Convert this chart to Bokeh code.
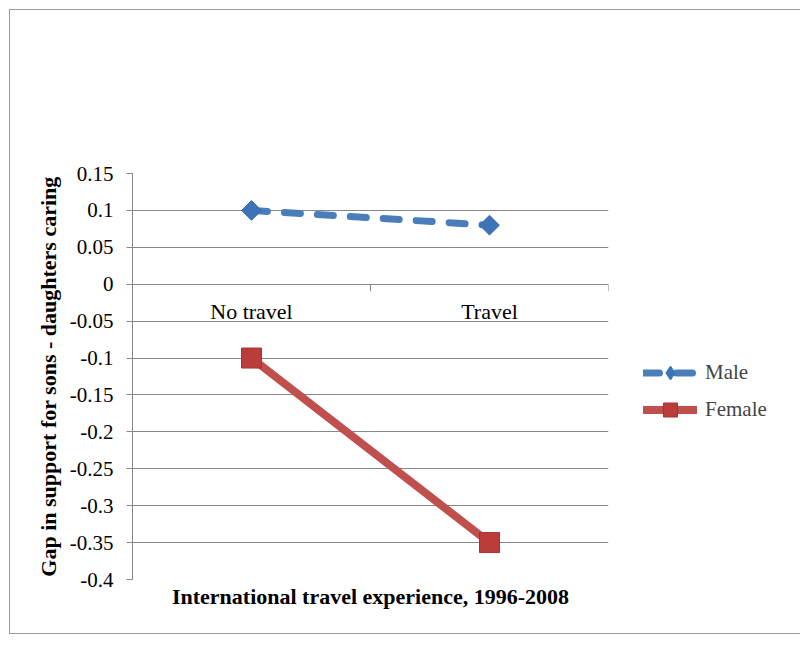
import math
from bokeh.plotting import figure
from bokeh.models import (Range1d, FixedTicker, Legend, LegendItem)
from bokeh.core.properties import value
from bokeh.embed import file_html
from bokeh.resources import INLINE

categories = ["No travel", "Travel"]
male = [0.10, 0.08]
female = [-0.10, -0.35]
tick_values = [-0.4, -0.35, -0.3, -0.25, -0.2, -0.15, -0.1, -0.05, 0.0, 0.05, 0.1, 0.15]
tick_labels = ["-0.4", "-0.35", "-0.3", "-0.25", "-0.2", "-0.15", "-0.1", "-0.05", "0", "0.05", "0.1", "0.15"]
y_title = "Gap in support for sons - daughters caring"
x_title = "International travel experience, 1996-2008"

FONT = "'Liberation Serif', 'Times New Roman', serif"
GRID = "#878787"
BLUE_LINE = "#4a7ebb"
BLUE_MARK = "#3d74b8"
RED_LINE = "#c0504d"
RED_MARK = "#bb3d3a"

xs = [i + 0.5 for i in range(len(categories))]
boundaries = list(range(len(categories) + 1))

p = figure(width=779, height=624, output_backend="svg", toolbar_location=None,
           x_range=Range1d(0, len(categories)), y_range=Range1d(tick_values[0], tick_values[-1]),
           frame_width=476, frame_height=406,
           min_border_left=122, min_border_top=163, min_border_right=180, min_border_bottom=54)
p.margin = (9, 0, 0, 9)
p.styles = {"border": "1px solid #9a9a9a"}
p.outline_line_color = None
p.background_fill_color = "white"
p.border_fill_color = "white"

# axes
p.yaxis.ticker = FixedTicker(ticks=tick_values)
p.yaxis.major_label_overrides = {v: s for v, s in zip(tick_values, tick_labels)}
p.yaxis.major_label_text_font = FONT
p.yaxis.major_label_text_font_size = "21px"
p.yaxis.major_label_text_color = "black"
p.yaxis.major_tick_out = 6
p.yaxis.major_tick_in = 0
p.yaxis.minor_tick_line_color = None
p.yaxis.axis_line_color = GRID
p.yaxis.major_tick_line_color = GRID
p.yaxis.major_label_standoff = 13
p.yaxis.axis_label = y_title
p.yaxis.axis_label_text_font = FONT
p.yaxis.axis_label_text_font_style = "bold"
p.yaxis.axis_label_text_font_size = "22px"
p.yaxis.axis_label_text_color = "black"
p.yaxis.axis_label_standoff = 6

p.xaxis.ticker = FixedTicker(ticks=[])
p.xaxis.axis_line_color = None
p.xaxis.major_tick_line_color = None
p.xaxis.minor_tick_line_color = None
p.xaxis.major_tick_out = 0
p.xaxis.major_label_standoff = 0
p.xaxis.axis_label = x_title
p.xaxis.axis_label_text_font = FONT
p.xaxis.axis_label_text_font_style = "bold"
p.xaxis.axis_label_text_font_size = "22px"
p.xaxis.axis_label_text_color = "black"
p.xaxis.axis_label_standoff = 4

p.xgrid.grid_line_color = None
p.ygrid.grid_line_color = GRID
p.ygrid.grid_line_width = 1
p.ygrid.ticker = FixedTicker(ticks=tick_values)

# category axis at zero: ticks at boundaries and labels
p.ray(x=boundaries, y=[0] * len(boundaries), length=7, length_units="screen",
      angle=-math.pi / 2, line_color=GRID, line_width=1)
p.text(x=xs, y=[0] * len(xs), text=categories, text_font=value(FONT),
       text_font_size="22px", text_align="center", text_baseline="top",
       y_offset=15, text_color="black")

# series
m_line = p.line(xs, male, line_color=BLUE_LINE, line_width=7, line_dash="16 17",
                line_cap="round")
# diamond (used for the legend swatch), hidden beneath the rotated square in the plot
m_diamond = p.scatter(xs, male, marker="diamond", size=16,
                      fill_color=BLUE_MARK, line_color=BLUE_MARK)
m_mark = p.scatter(xs, male, marker="square", size=14, angle=math.pi / 4,
                   fill_color=BLUE_MARK, line_color="#3a6eae", line_width=1)
f_line = p.line(xs, female, line_color=RED_LINE, line_width=8, line_cap="round")
f_mark = p.scatter(xs, female, marker="square", size=20,
                   fill_color=RED_MARK, line_color="#a3322f", line_width=1)

legend = Legend(items=[LegendItem(label="Male", renderers=[m_line, m_diamond]),
                       LegendItem(label="Female", renderers=[f_line, f_mark])],
                location=(35, 152), glyph_width=54, glyph_height=35,
                label_height=35, spacing=2, label_standoff=8,
                label_text_font=FONT, label_text_font_size="21px",
                label_text_baseline="middle",
                padding=0, margin=0, border_line_color=None,
                background_fill_alpha=0)
p.add_layout(legend, "right")

open("out.html", "w").write(file_html(p, INLINE))
